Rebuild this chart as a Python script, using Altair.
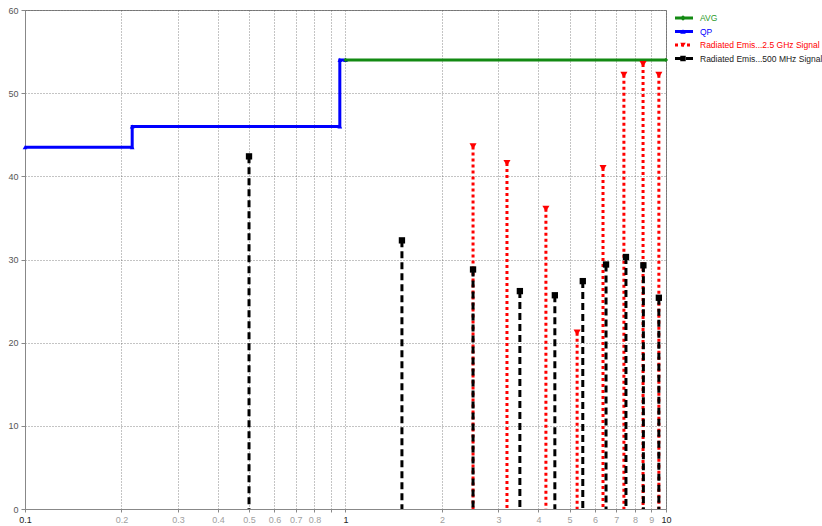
import altair as alt
import pandas as pd

# Limit lines (GHz, dBuV/m)
qp_freq = [0.1, 0.216, 0.216, 0.96, 0.96, 1.0]
qp_level = [43.5, 43.5, 46.0, 46.0, 54.0, 54.0]
avg_freq = [1.0, 10.0]
avg_level = [54.0, 54.0]

# Measured emissions
sig25_freq = [2.5, 3.19, 4.22, 5.28, 6.36, 7.39, 8.48, 9.5]
sig25_level = [43.6, 41.6, 36.1, 21.2, 41.0, 52.2, 53.5, 52.2]
sig500_freq = [0.5, 1.5, 2.5, 3.5, 4.5, 5.5, 6.5, 7.5, 8.5, 9.5]
sig500_level = [42.4, 32.3, 28.8, 26.2, 25.7, 27.4, 29.4, 30.3, 29.3, 25.4]

x_ticks = [0.1, 0.2, 0.3, 0.4, 0.5, 0.6, 0.7, 0.8, 0.9, 1, 2, 3, 4, 5, 6, 7, 8, 9, 10]
y_ticks = [0, 10, 20, 30, 40, 50, 60]

legend_names = ["AVG", "QP", "Radiated Emis...2.5 GHz Signal", "Radiated Emis...500 MHz Signal"]
legend_colors = ["#138a13", "#0000ff", "#ff0000", "#000000"]
legend_dash = [[1, 0], [1, 0], [3, 3], [7, 4]]
legend_shape = ["diamond", "triangle-up", "triangle-down", "square"]
legend_text_colors = ["#2a9a2a", "#0000ff", "#ff0000", "#222222"]

W, H = 641, 499
FONT = "Liberation Sans"

qp_df = pd.DataFrame({"f": qp_freq, "v": qp_level, "i": range(len(qp_freq))})
avg_df = pd.DataFrame({"f": avg_freq, "v": avg_level, "i": range(len(avg_freq))})
s25_df = pd.DataFrame({"f": sig25_freq, "v": sig25_level})
s500_df = pd.DataFrame({"f": sig500_freq, "v": sig500_level})

x_scale = alt.Scale(type="log", domain=[0.1, 10], nice=False)
y_scale = alt.Scale(domain=[0, 60], nice=False, zero=False)

x_axis = alt.Axis(
    values=x_ticks,
    format="~g",
    labelExpr="datum.value == 0.9 ? '' : datum.label",
    labelColor={
        "condition": {"test": "datum.value == 0.1 || datum.value == 1 || datum.value == 10", "value": "#222"},
        "value": "#a0a0a0",
    },
    title=None,
    grid=True,
    labelFlush=False,
    labelOverlap=False,
    tickSize=3,
    labelPadding=3,
)
y_axis = alt.Axis(values=y_ticks, title=None, grid=True, tickSize=4, labelPadding=3, labelColor="#555")

X = alt.X("f:Q", scale=x_scale, axis=x_axis)
Y = alt.Y("v:Q", scale=y_scale, axis=y_axis)

qp_line = alt.Chart(qp_df).mark_line(color="#0000ff", strokeWidth=3).encode(x=X, y=Y, order="i:Q")
qp_pts = alt.Chart(qp_df).mark_point(shape="triangle-up", filled=True, color="#0000ff", size=22, opacity=1).encode(x=X, y=Y)
avg_line = alt.Chart(avg_df).mark_line(color="#138a13", strokeWidth=3).encode(x=X, y=Y, order="i:Q")
avg_pts = alt.Chart(avg_df).mark_point(shape="diamond", filled=True, color="#138a13", size=18, opacity=1).encode(x=X, y=Y)

s25_stem = alt.Chart(s25_df).mark_rule(color="#ff0000", strokeWidth=3, strokeDash=[3, 3]).encode(
    x=X, y=Y, y2=alt.datum(0)
)
s25_pts = alt.Chart(s25_df).mark_point(shape="triangle-down", filled=True, color="#ff0000", size=50, opacity=1).encode(x=X, y=Y)
s500_stem = alt.Chart(s500_df).mark_rule(color="#000000", strokeWidth=3, strokeDash=[7, 4]).encode(
    x=X, y=Y, y2=alt.datum(0)
)
s500_pts = alt.Chart(s500_df).mark_point(shape="square", filled=True, color="#000000", size=40, opacity=1).encode(x=X, y=Y)

# Legend drawn in the right-hand margin
legend_layers = []
row0, row_step = 8, 13.5
for k, name in enumerate(legend_names):
    yy = row0 + k * row_step
    legend_layers.append(
        alt.Chart().mark_rule(color=legend_colors[k], strokeWidth=3, strokeDash=legend_dash[k]).encode(
            x=alt.value(W + 9), x2=alt.value(W + 27), y=alt.value(yy)
        )
    )
    legend_layers.append(
        alt.Chart().mark_point(shape=legend_shape[k], filled=True, color=legend_colors[k], size=30, opacity=1).encode(
            x=alt.value(W + 17), y=alt.value(yy)
        )
    )
    legend_layers.append(
        alt.Chart().mark_text(align="left", baseline="middle", font=FONT, fontSize=8.5, color=legend_text_colors[k]).encode(
            x=alt.value(W + 34), y=alt.value(yy), text=alt.value(name)
        )
    )

chart = alt.layer(
    qp_line, qp_pts, avg_line, avg_pts, s25_stem, s25_pts, s500_stem, s500_pts, *legend_layers
).properties(
    width=W,
    height=H,
    autosize=alt.AutoSizeParams(type="none"),
    padding={"left": 25, "top": 10, "right": 156, "bottom": 17},
    background="white",
).configure_view(
    stroke="#888888", strokeWidth=1
).configure_axis(
    domainColor="#888888",
    tickColor="#888888",
    gridColor="#555555",
    gridDash=[1, 2],
    gridOpacity=0.7,
    labelFont=FONT,
    labelFontSize=9,
)

chart.save("out.html", embed_options={"renderer": "svg", "actions": False})
